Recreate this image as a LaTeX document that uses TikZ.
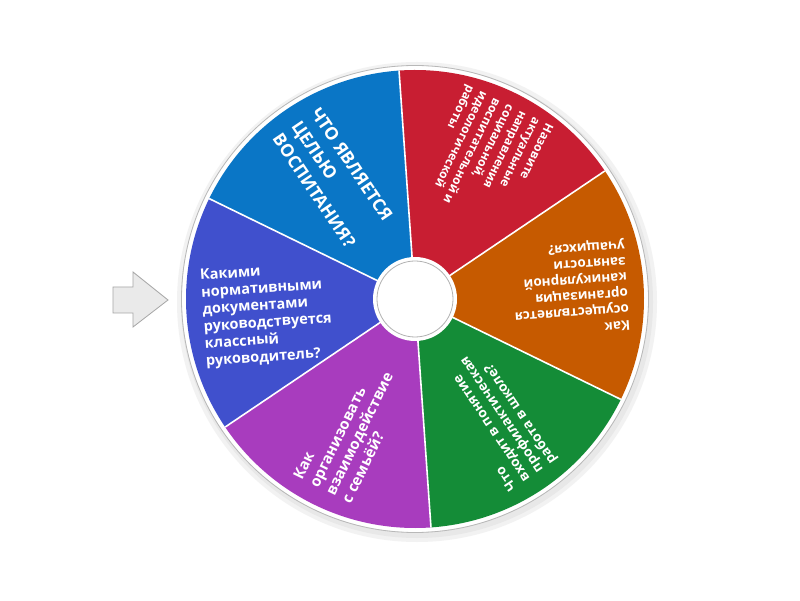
\documentclass[tikz,border=0pt]{standalone}
\usepackage{fontspec}
\setmainfont{Open Sans}
\usepackage{tikz}
\definecolor{sliceblue}{RGB}{10,118,198}
\definecolor{slicered}{RGB}{200,30,50}
\definecolor{sliceorange}{RGB}{198,90,0}
\definecolor{slicegreen}{RGB}{20,140,55}
\definecolor{slicepurple}{RGB}{168,60,190}
\definecolor{sliceindigo}{RGB}{64,80,205}
\definecolor{pointergray}{RGB}{234,234,234}

\begin{document}
\begin{tikzpicture}[x=1pt,y=1pt,
  slice/.style={draw=white,line width=1.6pt},
  question/.style={text=white,anchor=west,align=left,inner sep=0pt}]
\useasboundingbox (0,0) rectangle (800,600);
\fill [white] (0,0) rectangle (800,600);
\coordinate (c) at (415,301);
\fill [black!5] ([shift={(2,-3)}]c) circle (240);
\fill [black!9] ([shift={(2,-3)}]c) circle (236);
\fill [white] (c) circle (233);
\draw [black!28,line width=0.8pt] (c) circle (233.5);
\fill [sliceblue] (c) -- ++(94:229) arc (94:154:229) -- cycle;
\fill [slicered] (c) -- ++(34:229) arc (34:94:229) -- cycle;
\fill [sliceorange] (c) -- ++(-26:229) arc (-26:34:229) -- cycle;
\fill [slicegreen] (c) -- ++(-86:229) arc (-86:-26:229) -- cycle;
\fill [slicepurple] (c) -- ++(-146:229) arc (-146:-86:229) -- cycle;
\fill [sliceindigo] (c) -- ++(154:229) arc (154:214:229) -- cycle;
\draw [slice] (c) -- ++(94:229);
\draw [slice] (c) -- ++(34:229);
\draw [slice] (c) -- ++(-26:229);
\draw [slice] (c) -- ++(-86:229);
\draw [slice] (c) -- ++(-146:229);
\draw [slice] (c) -- ++(154:229);
\fill [white] (c) circle (42);
\draw [black!30,line width=0.8pt] (c) circle (38);
\node [question,rotate=-56,font=\bfseries\fontsize{17.5}{23}\selectfont] (goal) at ([shift={(124:213)}]c) {ЧТО ЯВЛЯЕТСЯ\\ЦЕЛЬЮ\\ВОСПИТАНИЯ?};
\node [question,rotate=-116,font=\bfseries\fontsize{12}{14.6}\selectfont] (work) at ([shift={(64:216)}]c) {Назовите\\актуальные\\направления\\социальной,\\воспитательной и\\идеологической\\работы};
\node [question,rotate=-176,font=\bfseries\fontsize{13.5}{16}\selectfont] (leisure) at ([shift={(4:213)}]c) {Как\\осуществляется\\организация\\каникулярной\\занятости\\учащихся?};
\node [question,rotate=124,font=\bfseries\fontsize{13.5}{16}\selectfont] (prevent) at ([shift={(-56:213)}]c) {Что\\входит в понятие\\профилактическая\\работа в школе?};
\node [question,rotate=64,font=\bfseries\fontsize{15}{18}\selectfont] (family) at ([shift={(-116:213)}]c) {Как\\организовать\\взаимодействие\\с семьёй?};
\node [question,rotate=4,font=\bfseries\fontsize{14.5}{17.2}\selectfont] (docs) at ([shift={(185.5:213)}]c) {Какими\\нормативными\\документами\\руководствуется\\классный\\руководитель?};
\draw [fill=pointergray,draw=black!35,line width=0.8pt] (113,287) -- (133,287) -- (133,273) -- (168,300) -- (133,328) -- (133,313) -- (113,313) -- cycle;
\end{tikzpicture}
\end{document}
